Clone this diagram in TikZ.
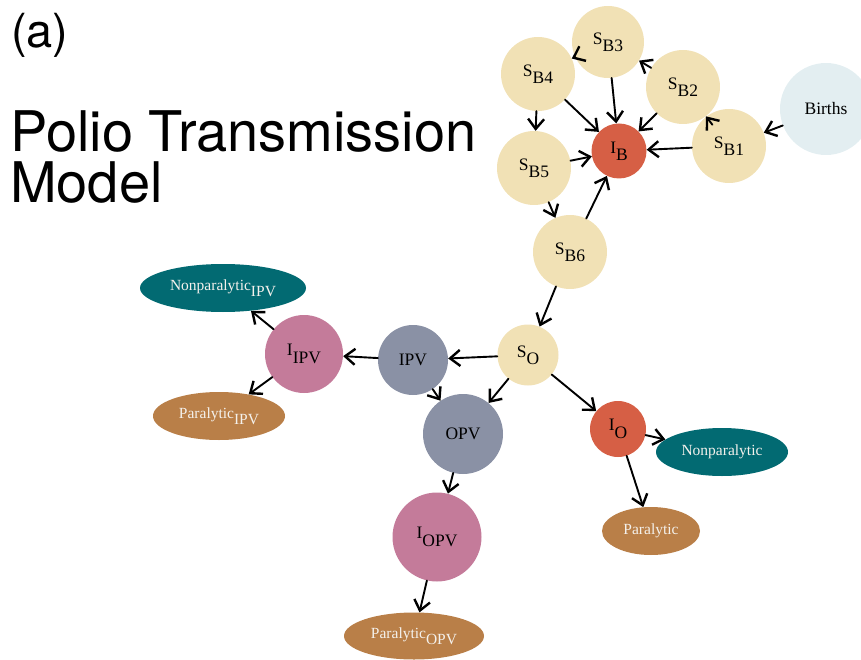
\documentclass[tikz,border=0pt]{standalone}
\usepackage{fontspec}
\setmainfont{Liberation Serif}
\newfontfamily\titlefont{TeX Gyre Heros}
\usetikzlibrary{arrows.meta,shapes.geometric}
\definecolor{sbeige}{HTML}{F1E1B5}
\definecolor{ired}{HTML}{D65F45}
\definecolor{birthc}{HTML}{E3EEF1}
\definecolor{vacc}{HTML}{8A91A5}
\definecolor{ipink}{HTML}{C47B9A}
\definecolor{teal}{HTML}{026A72}
\definecolor{brownp}{HTML}{B97F48}
\definecolor{lighttext}{HTML}{F4F1EC}
\newcommand\lowsub[1]{\raisebox{-0.42em}{#1}}
\tikzset{
  arr/.style={draw=black, line width=1.9pt, line cap=round,
    -{Straight Barb[length=10pt,width=16pt,line width=2.4pt]}},
  titletext/.style={anchor=base west, inner sep=0pt, font=\titlefont\fontsize{56}{49}\selectfont}
}
\begin{document}
\begin{tikzpicture}[x=1pt,y=-1pt,
  circ/.style={circle, draw=none, inner sep=0pt, minimum size=#1,
    font=\fontsize{17.5}{20}\selectfont},
  ell/.style n args={2}{ellipse, draw=none, inner sep=0pt, minimum width=#1, minimum height=#2,
    text=lighttext, font=\fontsize{15.5}{18}\selectfont}
]
\clip (0,0) rectangle (861,660);
\useasboundingbox (0,0) rectangle (861,660);

% titles
\node[anchor=base west, inner sep=0pt, font=\titlefont\fontsize{47}{50}\selectfont] (lbl) at (11,48) {(a)};
\node[titletext, text depth=0pt] (ttl) at (10,152) {Polio Transmission};
\node[titletext, text height=41pt] (ttl2) at (10,203) {Model};

% S-B chain
\node[circ=92, fill=birthc] (Bi) at (826,109) {Births};
\node[circ=74, fill=sbeige] (SB1) at (729,146) {S\lowsub{B1}};
\node[circ=74, fill=sbeige] (SB2) at (683,87) {S\lowsub{B2}};
\node[circ=72, fill=sbeige] (SB3) at (608,42) {S\lowsub{B3}};
\node[circ=74, fill=sbeige] (SB4) at (538,74) {S\lowsub{B4}};
\node[circ=74, fill=sbeige] (SB5) at (534,168) {S\lowsub{B5}};
\node[circ=74, fill=sbeige] (SB6) at (570,252) {S\lowsub{B6}};
\node[circ=55, fill=ired] (IB) at (619,151) {I\lowsub{B}};
\node[circ=61, fill=sbeige] (SO) at (528,355) {S\lowsub{O}};

% vaccination branch
\node[circ=70, fill=vacc] (IPV) at (413,360) {IPV};
\node[circ=80, fill=vacc] (OPV) at (463,434) {OPV};
\node[circ=78, fill=ipink] (IIPV) at (304,354) {I\lowsub{IPV}};
\node[circ=89, fill=ipink] (IOPV) at (437,537) {I\lowsub{OPV}};
\node[circ=56, fill=ired] (IO) at (618,429) {I\lowsub{O}};

% outcomes
\node[ell={166}{48}, fill=teal] (NIPV) at (223,288) {Nonparalytic\lowsub{IPV}};
\node[ell={132}{48}, fill=brownp] (PIPV) at (219,416) {Paralytic\lowsub{IPV}};
\node[ell={140}{47}, fill=brownp] (POPV) at (414,636) {Paralytic\lowsub{OPV}};
\node[ell={132}{48}, fill=teal] (NP) at (722,452) {Nonparalytic};
\node[ell={98}{48}, fill=brownp] (PA) at (651,531) {Paralytic};

% connectors
\draw[arr] (Bi) -- (SB1);
\draw[arr, shorten <=27pt] (SB1.center) -- (SB2);
\draw[arr] (SB2) -- (SB3);
\draw[arr] (SB3) -- (SB4);
\draw[arr] (SB4) -- (SB5);
\draw[arr] (SB5) -- (SB6);
\draw[arr] (SB1) -- (IB);
\draw[arr] (SB2) -- (IB);
\draw[arr] (SB3) -- (IB);
\draw[arr] (SB4) -- (IB);
\draw[arr] (SB5) -- (IB);
\draw[arr] (SB6) -- (IB);
\draw[arr] (SB6) -- (SO);
\draw[arr] (SO) -- (IPV);
\draw[arr] (SO) -- (OPV);
\draw[arr] (SO) -- (IO);
\draw[arr] (IPV) -- (OPV);
\draw[arr] (IPV) -- (IIPV);
\draw[arr] (IIPV) -- (NIPV);
\draw[arr] (IIPV) -- (PIPV);
\draw[arr] (OPV) -- (IOPV);
\draw[arr] (IOPV) -- (POPV);
\draw[arr] (IO) -- (NP);
\draw[arr] (IO) -- (PA);
\end{tikzpicture}
\end{document}
